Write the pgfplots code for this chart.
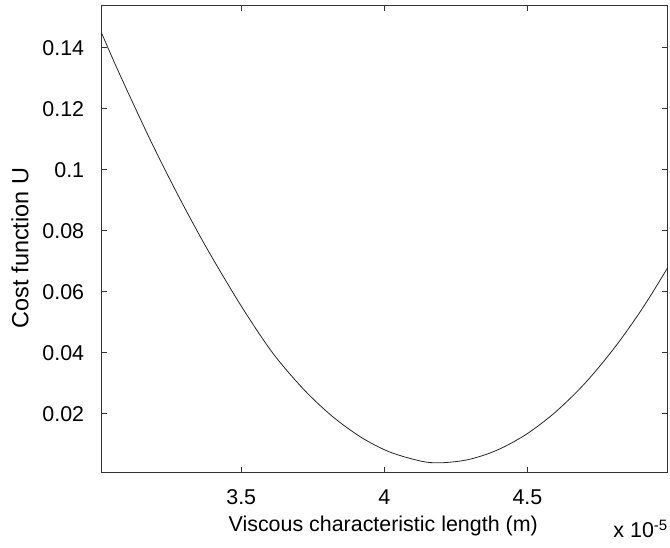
\documentclass[border=0pt]{standalone}
\usepackage{fontspec}
\setmainfont{Liberation Sans}
\usepackage{pgfplots}
\pgfplotsset{compat=1.18}

\begin{document}
\fontsize{21.5}{26}\selectfont
\begin{tikzpicture}
  \path[use as bounding box] (0,0) rectangle (670bp,548bp);
  \begin{axis}[
      at={(101bp,75.3bp)}, anchor=south west,
      width=566.7bp, height=467bp, scale only axis,  % axis box in px of the reference
      xmin=3.01, xmax=4.99,
      ymin=0.00066, ymax=0.1538,
      xtick={3.5,4,4.5},
      ytick={0.02,0.04,...,0.14},
      tick align=inside,
      major tick length=5.7bp,
      axis line style={black!80, line width=0.8bp},
      every tick/.style={black!80, line width=0.8bp},
      /pgf/number format/assume math mode=true,
      yticklabel style={/pgf/number format/fixed, /pgf/number format/precision=2, xshift=-9.5bp},
      xticklabel style={yshift=-10bp},
      xlabel={Viscous characteristic length (m)},
      xlabel style={at={(axis description cs:0.498,-0.115)}, anchor=center},
      ylabel={Cost function U},
      ylabel style={at={(axis description cs:-0.143,0.481)}, anchor=center,
                    font=\fontsize{23.5}{28}\selectfont},
    ]
    \addplot[smooth, black!85, line width=0.8bp] coordinates {
      (3.01,0.1453)
      (3.07,0.1324)
      (3.18,0.1102)
      (3.28,0.0915)
      (3.38,0.0742)
      (3.50,0.0553)
      (3.61,0.0399)
      (3.72,0.0278)
      (3.82,0.0190)
      (3.92,0.0122)
      (4.02,0.0074)
      (4.13,0.0044)
      (4.19,0.0039)
      (4.25,0.0043)
      (4.30,0.0051)
      (4.36,0.0068)
      (4.42,0.0092)
      (4.50,0.0135)
      (4.59,0.0199)
      (4.68,0.0279)
      (4.75,0.0353)
      (4.82,0.0436)
      (4.89,0.0529)
      (4.94,0.0602)
      (4.99,0.0679)
    };
  \end{axis}
  % scale factor under the x axis, as MATLAB puts it
  \node[anchor=east, inner sep=0pt] at (668bp,19bp) {x 10\textsuperscript{-5}};
\end{tikzpicture}
\end{document}
